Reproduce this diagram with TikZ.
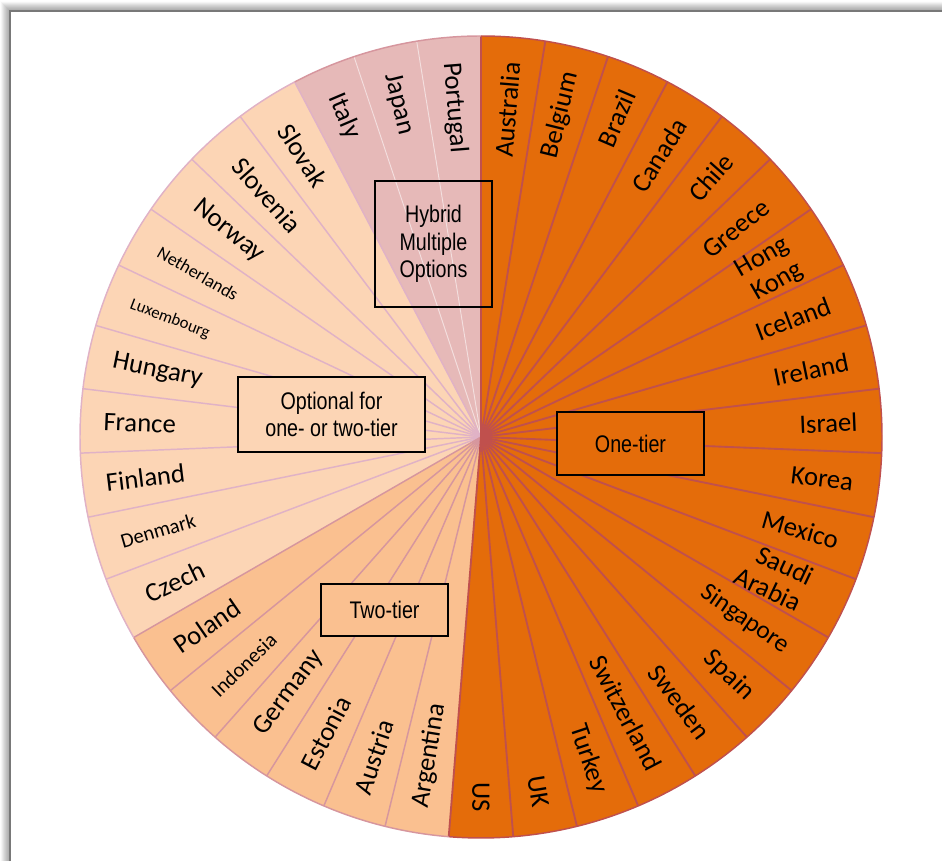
\documentclass[tikz,border=0pt]{standalone}
\usepackage{fontspec}
\setmainfont{Carlito}
\newfontfamily\boxfont[FakeStretch=0.82]{Liberation Sans}
\definecolor{onet}{RGB}{228,108,10}
\definecolor{twot}{RGB}{250,192,144}
\definecolor{optt}{RGB}{252,213,181}
\definecolor{hybt}{RGB}{230,185,184}
\definecolor{sepA}{RGB}{192,80,77}
\definecolor{sepB}{RGB}{214,150,158}
\definecolor{sepC}{RGB}{224,178,198}
\definecolor{frameg}{RGB}{120,120,120}
\begin{document}
\begin{tikzpicture}[x=0.75pt,y=0.75pt,
  lab/.style={font=\fontsize{20}{21.5}\selectfont, inner sep=0pt, text=black},
  labs/.style={font=\fontsize{#1}{#1}\selectfont, inner sep=0pt, text=black},
  rlab/.style={anchor=east, align=right},
  llab/.style={anchor=west, align=left},
  catbox/.style={draw=black, line width=1.6pt, inner sep=0pt, align=center,
    font=\boxfont\fontsize{18}{20.5}\selectfont},
  sepone/.style={sepA, line width=1.4pt},
  septwo/.style={sepB, line width=1.1pt},
  sepopt/.style={sepC, line width=1.1pt},
  sephyb/.style={white, opacity=0.55, line width=0.7pt}]
\useasboundingbox (0,0) rectangle (942,861);
% frame with soft shadow
\foreach \k in {1,...,9}{
  \draw[frameg, opacity={0.42-0.045*\k}, line width=0.8pt] (10-\k,0) -- (10-\k,850+\k) -- (942,850+\k);
}
\draw[frameg, line width=2.2pt] (10,0) -- (10,850) -- (942,850);

\begin{scope}[shift={(481,424)}]
% sectors
\fill[onet] (0,0) -- (90:401) arc[start angle=90, end angle=-94.615, radius=401] -- cycle;
\fill[twot] (0,0) -- (-94.615:401) arc[start angle=-94.615, end angle=-150, radius=401] -- cycle;
\fill[optt] (0,0) -- (-150:401) arc[start angle=-150, end angle=-242.308, radius=401] -- cycle;
\fill[hybt] (0,0) -- (-242.308:401) arc[start angle=-242.308, end angle=-270, radius=401] -- cycle;
% separators
\foreach \k in {37,38} \draw[sephyb] (0,0) -- ({90-9.230769*\k}:401);
\foreach \k in {27,...,36} \draw[sepopt] (0,0) -- ({90-9.230769*\k}:401);
\foreach \k in {21,...,26} \draw[septwo] (0,0) -- ({90-9.230769*\k}:401);
\foreach \k in {0,...,20} \draw[sepone] (0,0) -- ({90-9.230769*\k}:401);
% outlines
\draw[sepB, line width=1.1pt] (-94.615:401) arc[start angle=-94.615, end angle=-150, radius=401];
\draw[sepC, line width=1.1pt] (-150:401) arc[start angle=-150, end angle=-242.308, radius=401];
\draw[sepB, line width=1.1pt] (-242.308:401) arc[start angle=-242.308, end angle=-270, radius=401];
\draw[sepA, line width=1.1pt] (90:401) arc[start angle=90, end angle=-94.615, radius=401];

% labels, right half
\node[lab, rlab, rotate=85.38] (l0) at (85.38:376) {Australia};
\node[lab, rlab, rotate=76.15] (l1) at (76.15:376) {Belgium};
\node[lab, rlab, rotate=66.92] (l2) at (66.92:376) {Brazil};
\node[lab, rlab, rotate=57.69] (l3) at (57.69:374) {Canada};
\node[lab, rlab, rotate=48.46] (l4) at (48.46:374) {Chile};
\node[lab, rlab, rotate=39.23] (l5) at (39.23:368) {Greece};
\node[lab, rlab, rotate=30.00] (l6) at (30.00:362) {Hong\\Kong};
\node[lab, rlab, rotate=20.77] (l7) at (20.77:373) {Iceland};
\node[lab, rlab, rotate=11.54] (l8) at (11.54:375) {Ireland};
\node[lab, rlab, rotate=2.31] (l9) at (2.31:377) {Israel};
\node[lab, rlab, rotate=-6.92] (l10) at (-6.92:375) {Korea};
\node[lab, rlab, rotate=-16.15] (l11) at (-16.15:372) {Mexico};
\node[lab, rlab, rotate=-25.38] (l12) at (-25.38:360) {Saudi\\Arabia};
\node[labs=19, rlab, rotate=-34.62] (l13) at (-34.62:372) {Singapore};
\node[lab, rlab, rotate=-43.85] (l14) at (-43.85:374) {Spain};
\node[lab, rlab, rotate=-53.08] (l15) at (-53.08:374) {Sweden};
\node[lab, rlab, rotate=-62.31] (l16) at (-62.31:375) {Switzerland};
\node[lab, rlab, rotate=-71.54] (l17) at (-71.54:375) {Turkey};
\node[lab, rlab, rotate=-80.77] (l18) at (-80.77:375) {UK};
\node[lab, rlab, rotate=-90.00] (l19) at (-90.00:375) {US};
% labels, left half
\node[lab, llab, rotate=80.77] (l20) at (-99.23:376) {Argentina};
\node[lab, llab, rotate=71.54] (l21) at (-108.46:376) {Austria};
\node[lab, llab, rotate=62.31] (l22) at (-117.69:374) {Estonia};
\node[lab, llab, rotate=53.08] (l23) at (-126.92:370) {Germany};
\node[labs=15.5, llab, rotate=43.85] (l24) at (-136.15:370) {Indonesia};
\node[lab, llab, rotate=34.62] (l25) at (-145.38:370) {Poland};
\node[lab, llab, rotate=25.38] (l26) at (-154.62:370) {Czech};
\node[labs=15.5, llab, rotate=16.15] (l27) at (-163.85:375) {Denmark};
\node[lab, llab, rotate=6.92] (l28) at (-173.08:378) {Finland};
\node[lab, llab, rotate=-2.31] (l29) at (-182.31:378) {France};
\node[lab, llab, rotate=-11.54] (l30) at (-191.54:376) {Hungary};
\node[labs=12.5, llab, rotate=-20.77] (l31) at (-200.77:375) {Luxembourg};
\node[labs=13.5, llab, rotate=-30.00] (l32) at (-210.00:372) {Netherlands};
\node[lab, llab, rotate=-39.23] (l33) at (-219.23:368) {Norway};
\node[lab, llab, rotate=-48.46] (l34) at (-228.46:368) {Slovenia};
\node[lab, llab, rotate=-57.69] (l35) at (-237.69:368) {Slovak};
\node[lab, llab, rotate=-66.92] (l36) at (-246.92:372) {Italy};
\node[lab, llab, rotate=-76.15] (l37) at (-256.15:374) {Japan};
\node[lab, llab, rotate=-85.38] (l38) at (-265.38:376) {Portugal};
\end{scope}

% category boxes
\node[catbox, minimum width=87.75pt, minimum height=94.5pt] (hyb) at (433.5,617) {Hybrid\\Multiple\\Options};
\node[catbox, fill=onet, minimum width=110.25pt, minimum height=47.25pt] (one) at (630.5,417.5) {One-tier};
\node[catbox, fill=optt, minimum width=140.25pt, minimum height=56.25pt] (opt) at (331.5,446.5) {Optional for\\one- or two-tier};
\node[catbox, fill=twot, minimum width=95.25pt, minimum height=39pt] (two) at (384.5,251) {Two-tier};
\end{tikzpicture}
\end{document}
